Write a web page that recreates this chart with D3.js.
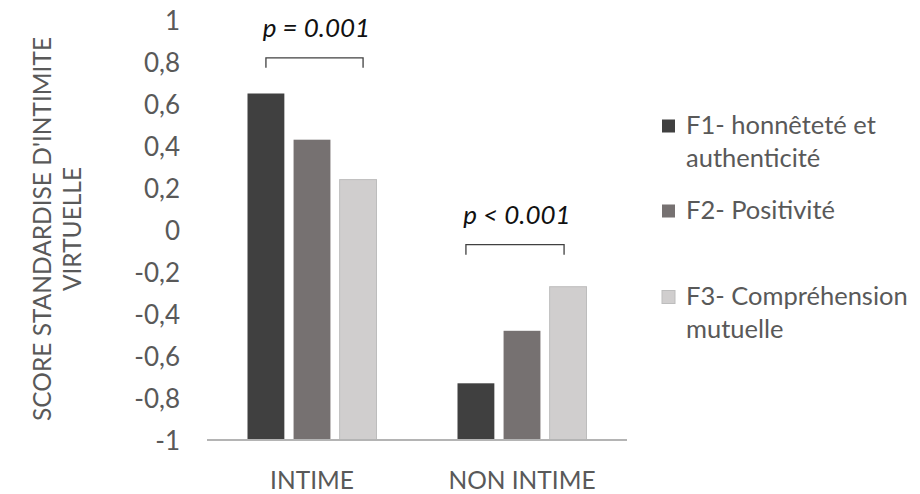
<!DOCTYPE html>
<html><head><meta charset="utf-8">
<script src="https://cdn.jsdelivr.net/npm/d3@7"></script>
<style>
html,body{margin:0;padding:0;background:#fff;}
text{font-family:Lato,"Open Sans",sans-serif;fill:#595959;}
</style></head>
<body>
<svg id="chart" width="920" height="494"></svg>
<script>
const categories = ["INTIME", "NON INTIME"];
const seriesNames = ["F1- honnêteté et authenticité", "F2- Positivité", "F3- Compréhension mutuelle"];
const legendLines = [["F1- honnêteté et", "authenticité"], ["F2- Positivité"], ["F3- Compréhension", "mutuelle"]];
const colors = ["#404040", "#767171", "#d0cece"];
const f1Values = [0.65, -0.73];
const f2Values = [0.43, -0.48];
const f3Values = [0.24, -0.27];
const tickValues = [-1, -0.8, -0.6, -0.4, -0.2, 0, 0.2, 0.4, 0.6, 0.8, 1];
const tickLabels = ["-1", "-0,8", "-0,6", "-0,4", "-0,2", "0", "0,2", "0,4", "0,6", "0,8", "1"];
const pLabels = ["p = 0.001", "p < 0.001"];
const bracketLevels = [0.82, -0.07];
const yTitleLines = ["SCORE STANDARDISE D'INTIMITE", "VIRTUELLE"];

const allSeries = [f1Values, f2Values, f3Values];
const svg = d3.select("#chart");

const x0 = d3.scaleBand().domain(categories).range([207, 627]);
const bw = x0.bandwidth();
const x1 = d3.scaleBand().domain(d3.range(3)).range([bw/2 - 64.5, bw/2 + 64.5]).paddingInner(0.2);
const y = d3.scaleLinear().domain([-1, 1]).range([440, 20]);

// y tick labels
const yAxis = d3.axisLeft(y).tickValues(tickValues)
  .tickFormat((d, i) => tickLabels[i]).tickSize(0).tickPadding(0);
const gy = svg.append("g").attr("transform", "translate(180,0)").call(yAxis);
gy.select(".domain").remove();
gy.selectAll("text").style("font-size", "26px").attr("fill", "#595959")
  .style("font-family", "Lato, sans-serif").attr("dy", "0.35em");

// bars
categories.forEach((c, ci) => {
  const g = svg.append("g").attr("transform", `translate(${x0(c)},0)`);
  g.selectAll("rect").data(allSeries.map((s, si) => ({si, v: s[ci]}))).join("rect")
    .attr("x", d => x1(d.si))
    .attr("width", x1.bandwidth())
    .attr("y", d => y(d.v))
    .attr("height", d => y(-1) - y(d.v))
    .attr("fill", d => colors[d.si])
    .attr("stroke", d => d.si === 2 ? "#bdbdbd" : "none")
    .attr("stroke-width", 1);
});

// x axis line at -1
svg.append("line").attr("x1", x0.range()[0]).attr("x2", x0.range()[1])
  .attr("y1", y(-1)).attr("y2", y(-1)).attr("stroke", "#b4b4b4").attr("stroke-width", 2);

// category labels
svg.selectAll(".cat").data(categories).join("text").attr("class", "cat")
  .attr("x", d => x0(d) + bw/2).attr("y", 489).attr("text-anchor", "middle")
  .style("font-size", "24.5px").text(d => d);

// brackets + p labels
categories.forEach((c, ci) => {
  const xa = x0(c) + x1(0) + x1.bandwidth()/2 - (ci === 0 ? 0 : 10);
  const xb = x0(c) + x1(2) + x1.bandwidth()/2 + (ci === 0 ? 5 : -4);
  const yb = y(bracketLevels[ci]);
  svg.append("path").attr("d", `M${xa},${yb+10}V${yb}H${xb}V${yb+10}`)
    .attr("fill", "none").attr("stroke", "#404040").attr("stroke-width", 1.3);
  svg.append("text").attr("x", (xa + xb)/2 + 2).attr("y", yb - 21)
    .attr("text-anchor", "middle").style("font-size", "26px").style("font-style", "italic")
    .style("fill", "#111").text(pLabels[ci]);
});

// y title
const yt = svg.append("text").attr("transform", "translate(0,229) rotate(-90)")
  .attr("text-anchor", "middle").style("font-size", "24.5px");
yTitleLines.forEach((l, i) => {
  yt.append("tspan").attr("x", 0).attr("y", 51 + i*30).text(l);
});

// legend
const legendY = [126, 211, 297];
seriesNames.forEach((s, i) => {
  const g = svg.append("g").attr("transform", `translate(662,${legendY[i]})`);
  g.append("rect").attr("x", 0).attr("y", -6.5).attr("width", 13).attr("height", 13)
    .attr("fill", colors[i]).attr("stroke", i === 2 ? "#bdbdbd" : "none");
  legendLines[i].forEach((l, j) => {
    g.append("text").attr("x", 24).attr("y", 8 + j*33).style("font-size", "25.5px").text(l);
  });
});
</script>
</body></html>
